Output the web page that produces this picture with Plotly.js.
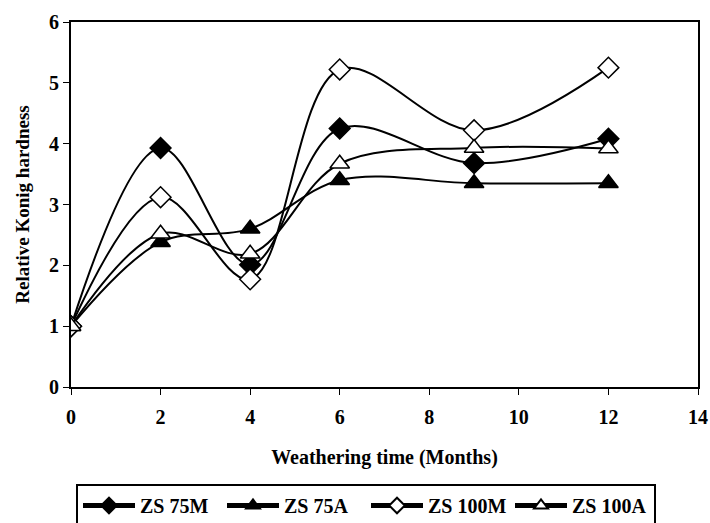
<!DOCTYPE html>
<html>
<head>
<meta charset="utf-8">
<script src="https://cdn.plot.ly/plotly-3.0.1.min.js"></script>
<style>html,body{margin:0;padding:0;background:#fff;}#chart{width:710px;height:523px;}</style>
</head>
<body>
<div id="chart"></div>
<script>
var months = [0, 2, 4, 6, 9, 12];
var zs75M = [1, 3.93, 2.01, 4.25, 3.68, 4.08];
var zs75A = [1, 2.38, 2.60, 3.40, 3.35, 3.35];
var zs100M = [1, 3.12, 1.77, 5.22, 4.22, 5.25];
var zs100A = [1, 2.52, 2.19, 3.67, 3.93, 3.92];
var seriesNames = ['ZS 75M', 'ZS 75A', 'ZS 100M', 'ZS 100A'];

function tr(name, y, symbol, fill, size) {
  return {
    x: months, y: y, name: name, type: 'scatter', mode: 'lines+markers',
    line: {color: '#000', width: 2, shape: 'spline', smoothing: 1},
    marker: {symbol: symbol, size: size, color: fill, line: {color: '#000', width: 1.5}}
  };
}
var data = [
  tr(seriesNames[0], zs75M, 'diamond', '#000', 16),
  tr(seriesNames[1], zs75A, 'triangle-up', '#000', 17),
  tr(seriesNames[2], zs100M, 'diamond', '#fff', 16),
  tr(seriesNames[3], zs100A, 'triangle-up', '#fff', 17)
];
var fam = 'Liberation Serif, Times New Roman, serif';
function f(sz) { return {family: fam, size: sz, color: '#000', weight: 'bold'}; }
var layout = {
  width: 710, height: 523,
  margin: {l: 71, r: 12, t: 22, b: 136},
  paper_bgcolor: '#fff', plot_bgcolor: '#fff',
  font: f(20),
  showlegend: true,
  legend: {orientation: 'h', xref: 'container', yref: 'container',
           x: 76 / 710, xanchor: 'left', y: 1 - 484 / 523, yanchor: 'top',
           bordercolor: '#000', borderwidth: 2, font: f(20),
           entrywidth: 77, itemwidth: 52, itemsizing: 'constant', tracegroupgap: 0},
  xaxis: {range: [0, 14], dtick: 2, tick0: 0, showgrid: false, zeroline: false,
          showline: true, linecolor: '#000', linewidth: 2, mirror: true,
          ticks: 'outside', ticklen: 6, tickwidth: 1, tickcolor: '#000',
          ticklabelstandoff: 5,
          tickfont: f(20),
          title: {text: 'Weathering time (Months)', standoff: 23, font: f(20)}},
  yaxis: {range: [0, 6], dtick: 1, tick0: 0, showgrid: false, zeroline: false,
          showline: true, linecolor: '#000', linewidth: 2, mirror: true,
          ticks: 'outside', ticklen: 6, tickwidth: 1, tickcolor: '#000',
          tickfont: f(20),
          title: {text: 'Relative Konig hardness', standoff: 14, font: f(19)}}
};
Plotly.newPlot('chart', data, layout, {displayModeBar: false, staticPlot: true});
</script>
</body>
</html>
